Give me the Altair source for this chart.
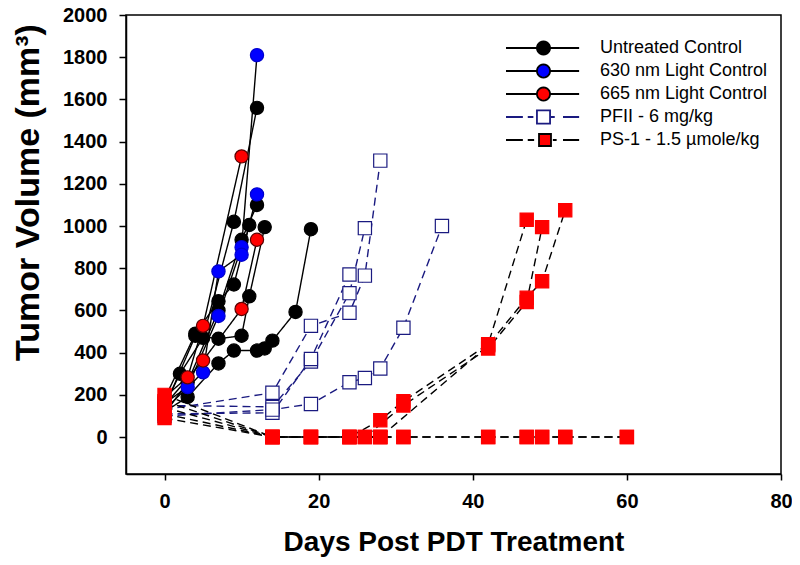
import math
import altair as alt
import pandas as pd

GROUPS = ["Untreated Control", "630 nm Light Control", "665 nm Light Control",
          "PFII - 6 mg/kg", "PS-1 - 1.5 \u00b5mole/kg"]

# each mouse: (days, tumor volumes mm^3)
UNTREATED = [
    ([0, 2, 5, 9, 12], [150, 300, 470, 1020, 1560]),
    ([0, 3, 7, 9, 12, 13, 14, 17, 19], [120, 190, 349, 410, 410, 420, 457, 593, 985]),
    ([0, 4, 7, 9, 11], [180, 490, 644, 723, 1005]),
    ([0, 4, 7, 10, 11, 13], [140, 480, 466, 480, 667, 995]),
    ([0, 3, 7, 10, 12], [110, 260, 600, 935, 1100]),
]
LIGHT_630 = [
    ([0, 3, 7, 10, 12], [160, 237, 574, 900, 1810]),
    ([0, 5, 7, 10, 12], [130, 307, 785, 864, 1150]),
]
LIGHT_665 = [
    ([0, 3, 5, 10], [190, 283, 527, 1330]),
    ([0, 5, 10, 12], [150, 363, 607, 935]),
]
PFII = [
    ([0, 14, 19, 24, 26, 28], [130, 210, 527, 589, 765, 1310]),
    ([0, 14, 19, 24, 26], [150, 143, 358, 682, 990]),
    ([0, 14, 19, 24], [110, 115, 370, 770]),
    ([0, 14, 19, 24, 26, 28, 31, 36], [100, 130, 157, 260, 280, 325, 518, 1000]),
]
PS1 = [
    ([0, 14, 19, 24, 28, 31, 42, 47], [200, 0, 0, 0, 80, 170, 440, 1030]),
    ([0, 14, 19, 26, 31, 42, 47, 49], [170, 0, 0, 0, 150, 420, 640, 995]),
    ([0, 14, 24, 28, 42, 47, 49, 52], [140, 0, 0, 0, 435, 660, 738, 1075]),
    ([0, 14, 19, 24, 28, 31, 42, 47, 49, 52, 60], [110, 0, 0, 0, 0, 0, 0, 0, 0, 0, 0]),
    ([0, 14, 19, 24, 26, 28, 31, 42, 47, 49, 52, 60], [90, 0, 0, 0, 0, 0, 0, 0, 0, 0, 0, 0]),
]

rows = []
for g, mice in zip(GROUPS, [UNTREATED, LIGHT_630, LIGHT_665, PFII, PS1]):
    for i, (days, vols) in enumerate(mice):
        for d, v in zip(days, vols):
            rows.append({"group": g, "mouse": f"{g}-{i}", "day": d, "vol": v})
df = pd.DataFrame(rows)

NAVY = "#1a1a80"

# ---- legend symbol paths (unit coords) ----
def poly_circle(cx, r, n=24):
    pts = [(cx + r * math.cos(2 * math.pi * k / n), r * math.sin(2 * math.pi * k / n)) for k in range(n)]
    return "M" + "L".join(f"{x:.3f},{y:.3f}" for x, y in pts) + "Z"

def sq(cx, h):
    return f"M{cx-h:.3f},{-h:.3f}H{cx+h:.3f}V{h:.3f}H{cx-h:.3f}Z"

R = 0.175
P_CIRC = f"M-1,0H{-R:.3f}M{R:.3f},0H0.95" + poly_circle(0.0, R)
P_PFII = "M-1,0H-0.55M-0.42,0H-0.27M0.2,0H0.3M0.52,0H0.95" + sq(0.0, 0.175)
P_PS1 = "M-1,0H-0.55M-0.42,0H-0.25M0.25,0H0.35M0.52,0H0.95" + sq(0.04, 0.16)

FONT = "Liberation Sans"

x = alt.X("day:Q", scale=alt.Scale(domain=[-5, 80], nice=False, zero=False),
          axis=alt.Axis(values=[0, 20, 40, 60, 80], title="Days Post PDT Treatment",
                        grid=False, tickSize=6, labelPadding=11, titlePadding=17,
                        labelFlush=False, labelFontSize=20, labelFontWeight="bold", format="d",
                        titleFontSize=28, titleFontWeight="bold", labelFont=FONT, titleFont=FONT,
                        domainColor="black", tickColor="black", labelColor="black",
                        titleColor="black", domainWidth=1.5, tickWidth=1.5))
y = alt.Y("vol:Q", scale=alt.Scale(domain=[-175, 2000], nice=False, zero=False),
          axis=alt.Axis(values=list(range(0, 2001, 200)), title="Tumor Volume (mm\u00b3)",
                        grid=False, tickSize=7, labelPadding=12, titlePadding=17, titleY=177,
                        labelFontSize=20, labelFontWeight="bold", format="d",
                        titleFontSize=34, titleFontWeight="bold", labelFont=FONT, titleFont=FONT,
                        domainColor="black", tickColor="black", labelColor="black",
                        titleColor="black", domainWidth=1.5, tickWidth=1.5))

lines = alt.Chart(df).mark_line(strokeWidth=1.4).encode(
    x=x, y=y,
    color=alt.Color("group:N", scale=alt.Scale(domain=GROUPS, range=["black", "black", "black", NAVY, "black"]), legend=None),
    strokeDash=alt.StrokeDash("group:N", scale=alt.Scale(domain=GROUPS, range=[[1, 0], [1, 0], [1, 0], [8, 5], [8, 5]]), legend=None),
    detail="mouse:N",
    order="day:Q",
)

points = alt.Chart(df).mark_point(filled=True, opacity=1, size=175, strokeWidth=1.2).encode(
    x=x, y=y,
    shape=alt.Shape("group:N", scale=alt.Scale(domain=GROUPS, range=["circle", "circle", "circle", "square", "square"]), legend=None),
    stroke=alt.Stroke("group:N", scale=alt.Scale(domain=GROUPS, range=["black", "#0000cc", "#5a0000", NAVY, "#ff0000"]), legend=None),
    fill=alt.Fill("group:N", scale=alt.Scale(domain=GROUPS, range=["black", "#0000ff", "#ff0000", "white", "#ff0000"]), legend=None),
)

LEG = dict(title=None, orient="none", legendX=379, legendY=21.5,
           clipHeight=23, rowPadding=0, labelOffset=18, padding=0,
           labelFontSize=18, labelFont=FONT, labelColor="black", labelLimit=400,
           symbolSize=5625, symbolStrokeWidth=1.8, symbolOpacity=1)

# legend-only layer: no rows, scales carry the five groups
legend_layer = alt.Chart(df).transform_filter("datum.day < -100").mark_point(
    filled=True, opacity=1, size=5625, strokeWidth=1.8).encode(
    x=x, y=y,
    shape=alt.Shape("group:N", scale=alt.Scale(domain=GROUPS, range=[P_CIRC, P_CIRC, P_CIRC, P_PFII, P_PS1]), legend=alt.Legend(**LEG)),
    stroke=alt.Stroke("group:N", scale=alt.Scale(domain=GROUPS, range=["black", "black", "black", NAVY, "black"]), legend=alt.Legend(**LEG)),
    fill=alt.Fill("group:N", scale=alt.Scale(domain=GROUPS, range=["black", "#0000ff", "#ff0000", "white", "#ff0000"]), legend=alt.Legend(**LEG)),
)

chart = alt.layer(lines, points, legend_layer).resolve_scale(
    shape="independent", stroke="independent", fill="independent"
).properties(
    width=655, height=459, autosize="none",
    padding={"left": 118, "top": 7, "right": 11, "bottom": 83},
).configure_view(stroke="black", strokeWidth=1.5)

chart.save("out.html", embed_options={"renderer": "svg", "actions": False})
